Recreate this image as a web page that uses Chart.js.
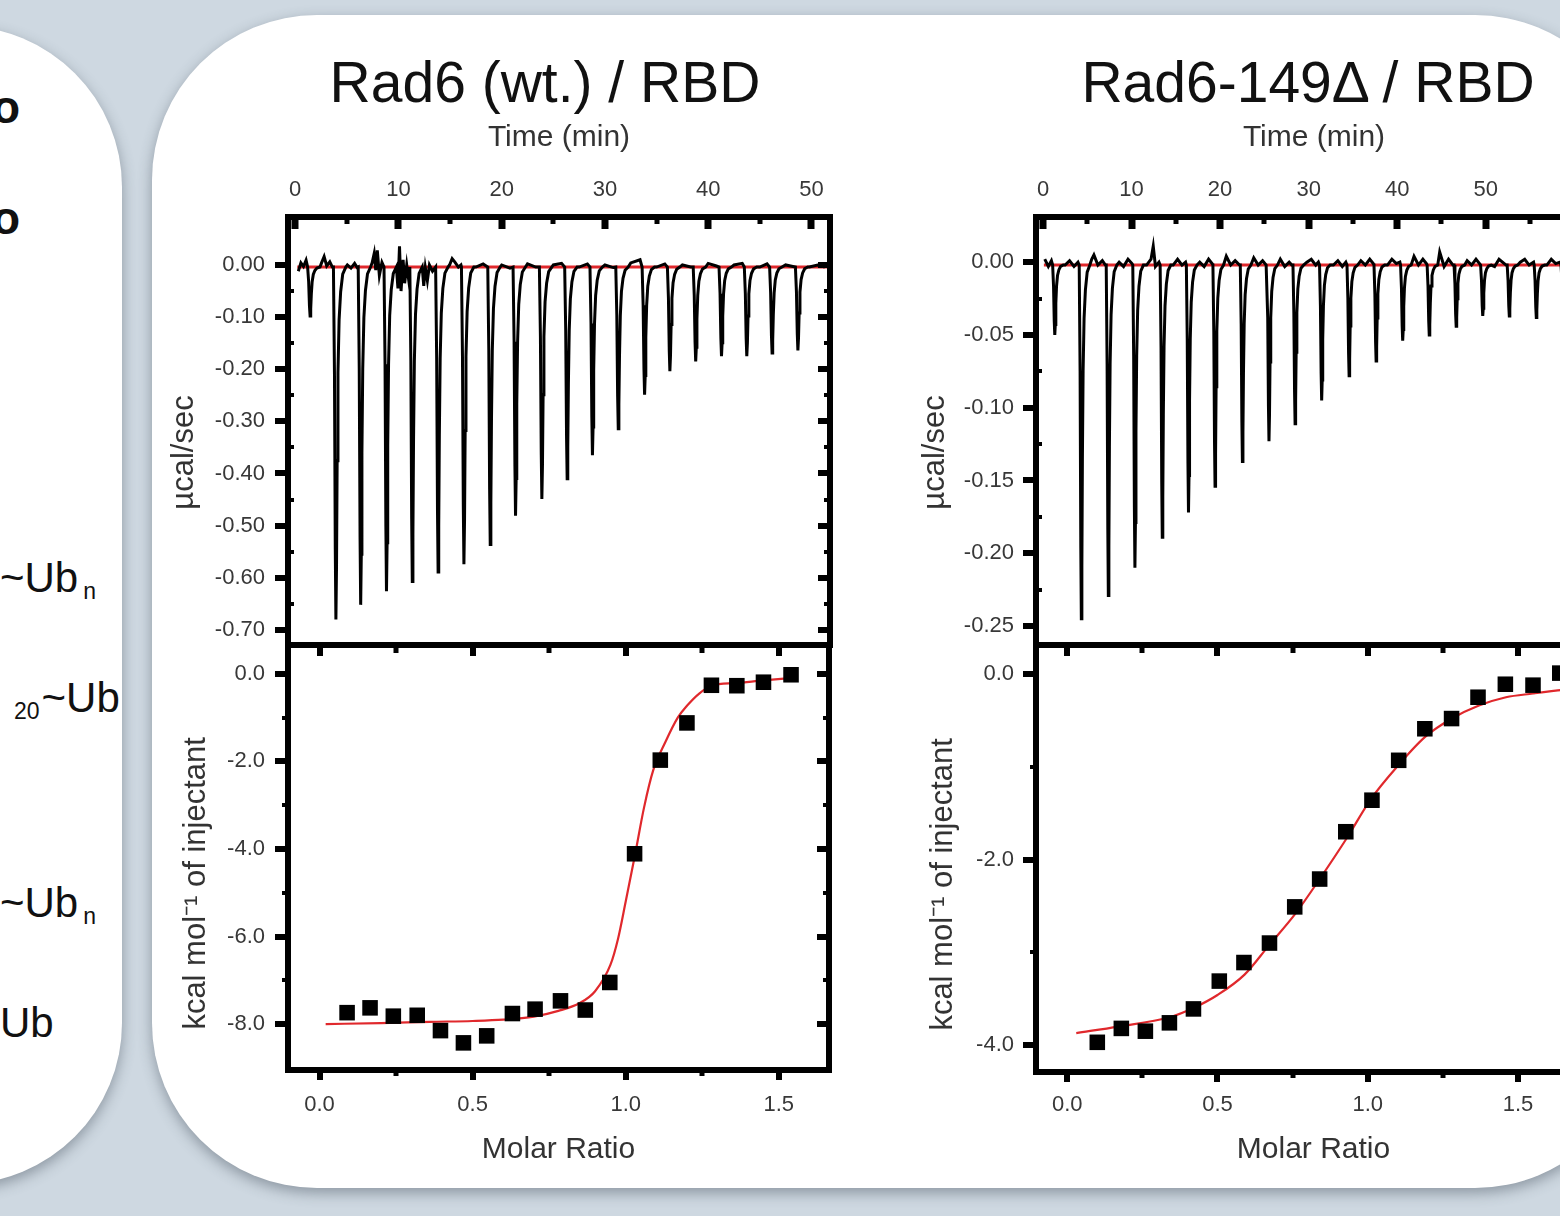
<!DOCTYPE html>
<html lang="en">
<head>
<meta charset="UTF-8">
<title>ITC Rad6 / RBD</title>
<style>
  * { padding: 0; margin: 0; }
  html, body { width: 1560px; height: 1216px; overflow: hidden; }
  body {
    background: #ced8e1;
    font-family: 'Liberation Sans', Arial, sans-serif;
    position: relative;
  }
  .panel {
    position: absolute;
    background: #fff;
    box-shadow: 0 5px 14px rgba(60, 70, 85, 0.45);
  }
  #leftPanel { left: -200px; top: 26px; width: 322px; height: 1158px; border-radius: 165px; }
  #mainPanel { left: 152px; top: 15px; width: 1488px; height: 1173px; border-radius: 165px; }

  .frag { position: absolute; color: #111; font-size: 42px; line-height: 1; white-space: nowrap; }
  .frag.bold { font-weight: bold; font-size: 46px; }
  .frag sub { font-size: 23px; vertical-align: -7px; margin-left: 5px; }
  .frag sub.pre { margin-left: 0; margin-right: 2px; }

  .title {
    position: absolute; top: 54px; font-size: 57px; line-height: 1;
    color: #111; white-space: nowrap; transform: translateX(-50%);
  }
  canvas { position: absolute; }
</style>
</head>
<body>

<div class="panel" id="leftPanel"></div>
<div class="panel" id="mainPanel"></div>

<!-- bits of the neighbouring panel that are cut off -->
<div class="frag bold" style="left:-8px; top:84px;">o</div>
<div class="frag bold" style="left:-8px; top:195px;">o</div>
<div class="frag" style="left:0px; top:557px;">~Ub<sub>n</sub></div>
<div class="frag" style="left:14px; top:677px;"><sub class="pre">20</sub>~Ub</div>
<div class="frag" style="left:0px; top:882px;">~Ub<sub>n</sub></div>
<div class="frag" style="left:0px; top:1002px;">Ub</div>

<div class="title" style="left:545px;">Rad6 (wt.) / RBD</div>
<div class="title" style="left:1308px;">Rad6-149&Delta; / RBD</div>

<canvas id="wtRaw" width="690" height="582" style="left:150px; top:100px;"></canvas>
<canvas id="wtHeat" width="690" height="572" style="left:150px; top:608px;"></canvas>
<canvas id="dRaw" width="702" height="582" style="left:900px; top:100px;"></canvas>
<canvas id="dHeat" width="702" height="572" style="left:900px; top:608px;"></canvas>

<script src="https://cdn.jsdelivr.net/npm/chart.js"></script>
<script>
// ---- Rad6 (wt.) / RBD : raw heat rate ----
const wtInjTimes = [1.3, 3.8, 6.2, 8.7, 11.2, 13.7, 16.2, 18.75, 21.2, 23.75,
                    26.2, 28.65, 31.15, 33.7, 36.15, 38.65, 41.15, 43.6, 46.05, 48.55];
const wtPeaks = [-0.098, -0.680, -0.652, -0.626, -0.607, -0.589, -0.574, -0.536, -0.481, -0.449,
                 -0.410, -0.365, -0.314, -0.249, -0.204, -0.185, -0.175, -0.175, -0.169, -0.164];
const wtBaseLevel = -0.004;
const wtNoise = [
  [0.3, -0.012], [0.55, 0.004], [0.8, -0.003], [1.05, 0.009],
  [2.55, 0.004], [2.8, 0.016], [3.05, -0.002], [3.35, 0.006], [3.6, -0.004],
  [5.05, 0.0], [5.4, -0.006], [5.75, 0.003], [6.0, -0.005],
  [7.45, 0.004], [7.65, 0.022], [7.8, -0.01], [7.95, 0.028], [8.15, -0.02], [8.4, 0.005], [8.6, -0.015],
  [9.95, -0.045], [10.1, 0.036], [10.25, -0.05], [10.45, 0.01], [10.6, -0.035], [10.8, 0.0], [11.0, -0.03],
  [12.45, -0.04], [12.6, -0.005], [12.8, -0.03], [13.0, 0.0], [13.3, -0.012], [13.55, -0.004],
  [14.95, 0.0], [15.2, 0.012], [15.45, 0.006], [15.8, -0.004], [16.05, 0.0],
  [17.5, -0.004], [18.2, 0.002], [20.0, 0.0], [20.8, -0.006], [22.5, 0.002], [23.3, -0.004],
  [25.0, 0.0], [25.8, 0.003], [27.5, -0.004], [28.3, 0.002], [30.0, 0.0], [30.8, -0.005],
  [32.5, 0.004], [33.4, 0.01], [35.0, -0.004], [35.8, 0.002], [37.5, 0.0], [38.3, -0.004],
  [40.0, 0.003], [40.8, -0.002], [42.5, 0.0], [43.3, 0.003], [45.0, -0.004], [45.7, 0.002],
  [47.5, 0.0], [48.2, -0.003], [49.8, -0.004], [50.6, 0.0], [51.3, -0.004]
];
const wtBaseline = [[0.2, -0.004], [52, -0.004]];

// ---- Rad6 (wt.) / RBD : integrated heats ----
const wtRatio = [0.09, 0.165, 0.241, 0.319, 0.395, 0.47, 0.546, 0.63, 0.704, 0.787,
                 0.868, 0.948, 1.029, 1.113, 1.2, 1.28, 1.363, 1.45, 1.54];
const wtHeat = [-7.74, -7.63, -7.82, -7.80, -8.15, -8.43, -8.27, -7.76, -7.66, -7.47,
                -7.68, -7.05, -4.11, -1.97, -1.12, -0.26, -0.27, -0.19, -0.02];
const wtFitX = [0.02, 0.2, 0.36, 0.5, 0.6, 0.7, 0.78, 0.85, 0.9, 0.95, 0.975, 1.0, 1.03,
                1.06, 1.09, 1.13, 1.17, 1.2, 1.24, 1.28, 1.36, 1.45, 1.55];
const wtFitY = [-8.0, -7.98, -7.95, -7.93, -7.9, -7.83, -7.7, -7.52, -7.25, -6.65, -6.05, -5.2, -4.15,
                -3.05, -2.2, -1.55, -1.0, -0.73, -0.45, -0.27, -0.21, -0.15, -0.09];

// ---- Rad6-149Δ / RBD : raw heat rate ----
const dInjTimes = [1.19, 4.19, 7.24, 10.24, 13.33, 16.29, 19.29, 22.38, 25.38, 28.33,
                   31.33, 34.43, 37.48, 40.48, 43.48, 46.52, 49.52, 52.52, 55.57, 58.6];
const dPeaks = [-0.050, -0.245, -0.229, -0.210, -0.189, -0.172, -0.154, -0.137, -0.123, -0.111,
                -0.095, -0.078, -0.068, -0.054, -0.050, -0.044, -0.037, -0.037, -0.038, -0.035];
const dBaseLevel = -0.002;
const dNoise = [
  [0.2, 0.002], [0.6, -0.003], [0.95, 0.001],
  [2.5, -0.002], [3.0, 0.001], [3.5, -0.003], [3.95, 0.0],
  [5.5, 0.002], [5.75, 0.005], [6.2, -0.002], [6.7, 0.001], [7.05, -0.002],
  [8.6, 0.0], [9.1, -0.003], [9.6, 0.002], [10.05, -0.001],
  [11.7, -0.002], [12.2, 0.002], [12.45, 0.011], [12.7, -0.003], [13.1, 0.0],
  [14.7, -0.002], [15.2, 0.002], [15.7, -0.002], [16.1, 0.0],
  [17.7, 0.0], [18.2, -0.003], [18.7, 0.002], [19.1, -0.001],
  [20.7, 0.004], [21.2, -0.002], [21.7, 0.001], [22.2, -0.002],
  [23.8, 0.003], [24.3, -0.002], [24.8, 0.001], [25.2, -0.002],
  [26.8, 0.002], [27.3, -0.003], [27.8, 0.0], [28.1, -0.002],
  [29.8, 0.0], [30.3, 0.002], [30.8, -0.002], [31.1, 0.0],
  [32.8, -0.002], [33.3, 0.001], [33.8, -0.003], [34.2, 0.0],
  [35.9, 0.001], [36.4, -0.002], [36.9, 0.002], [37.3, -0.001],
  [38.9, -0.002], [39.4, 0.002], [39.9, -0.001], [40.3, 0.0],
  [41.9, 0.004], [42.4, -0.002], [42.9, 0.002], [43.3, -0.001],
  [44.8, 0.007], [45.3, -0.003], [45.8, 0.002], [46.3, -0.002],
  [47.9, 0.001], [48.4, -0.002], [48.9, 0.002], [49.3, -0.001],
  [50.6, 0.009], [51.0, -0.003], [51.5, 0.002], [52.3, -0.002],
  [53.9, 0.0], [54.4, 0.002], [54.9, -0.002], [55.4, 0.0],
  [56.9, -0.002], [57.4, 0.002], [57.9, -0.001], [58.4, 0.0],
  [60.0, 0.001], [61.0, -0.002]
];
const dBaseline = [[0.1, -0.002], [62, -0.002]];

// ---- Rad6-149Δ / RBD : integrated heats ----
const dRatio = [0.10, 0.18, 0.26, 0.34, 0.42, 0.506, 0.588, 0.673, 0.757, 0.84,
                0.927, 1.014, 1.103, 1.19, 1.279, 1.367, 1.458, 1.55, 1.639];
const dHeat = [-3.97, -3.82, -3.85, -3.76, -3.61, -3.31, -3.11, -2.90, -2.51, -2.21,
               -1.70, -1.36, -0.93, -0.59, -0.48, -0.25, -0.11, -0.12, 0.01];
const dFitX = [0.03, 0.17, 0.34, 0.42, 0.5, 0.59, 0.67, 0.76, 0.84, 0.93, 1.01, 1.1,
               1.19, 1.28, 1.37, 1.46, 1.55, 1.65, 1.75];
const dFitY = [-3.87, -3.8, -3.7, -3.6, -3.46, -3.24, -2.93, -2.58, -2.21, -1.77, -1.35, -0.99,
               -0.68, -0.48, -0.34, -0.25, -0.21, -0.17, -0.14];

// shape of one injection peak: [minutes after injection, share of peak depth]
const spikeShape = [[-0.1, 0], [0.0, 0.3], [0.08, 0.8], [0.14, 1], [0.2, 0.85], [0.26, 0.55],
                    [0.34, 0.3], [0.45, 0.15], [0.6, 0.07], [0.8, 0.02], [1.1, 0]];

// tick values
const timeTicksWt = [0, 10, 20, 30, 40, 50];
const timeTicksD = [0, 10, 20, 30, 40, 50, 60];
const rateTicksWt = [0, -0.1, -0.2, -0.3, -0.4, -0.5, -0.6, -0.7];
const rateTicksD = [0, -0.05, -0.1, -0.15, -0.2, -0.25];
const heatTicksWt = [0, -2, -4, -6, -8];
const heatTicksD = [0, -2, -4];
const ratioTicks = [0, 0.5, 1.0, 1.5];

const FONT = "'Liberation Sans', Arial, sans-serif";
Chart.defaults.font.family = FONT;
const TICK_COLOR = '#383838';
const RED = '#e0282c';

function buildTrace(injTimes, peaks, base, noise) {
  const pts = [];
  noise.forEach(([t, v]) => {
    const busy = injTimes.some(t0 => t > t0 - 0.15 && t < t0 + 1.15);
    if (!busy) pts.push({ x: t, y: v });
  });
  injTimes.forEach((t0, i) => {
    spikeShape.forEach(([dt, f]) => pts.push({ x: t0 + dt, y: base + f * (peaks[i] - base) }));
  });
  return pts.sort((a, b) => a.x - b.x);
}
const pairs = (xs, ys) => xs.map((x, i) => ({ x: x, y: ys[i] }));
const midpoints = arr => arr.slice(1).map((v, i) => (v + arr[i]) / 2);

// box round the plot area plus the little tick marks
const framePlugin = {
  id: 'frame',
  afterDatasetsDraw(chart, args, opts) {
    const { ctx, chartArea: a } = chart;
    ctx.save();
    ctx.fillStyle = '#000';
    (opts.marks || []).forEach(m => {
      const sc = chart.scales[m.axis];
      m.values.forEach(v => {
        const p = Math.round(sc.getPixelForValue(v));
        const w = m.width, len = m.len, h = w / 2;
        if (m.side === 'top') ctx.fillRect(p - h, m.dir > 0 ? a.top : a.top - len, w, len);
        if (m.side === 'bottom') ctx.fillRect(p - h, m.dir > 0 ? a.bottom - len : a.bottom, w, len);
        if (m.side === 'left') ctx.fillRect(m.dir > 0 ? a.left : a.left - len, p - h, len, w);
        if (m.side === 'right') ctx.fillRect(m.dir > 0 ? a.right - len : a.right, p - h, len, w);
      });
    });
    ctx.strokeStyle = '#000';
    ctx.lineWidth = opts.lineWidth;
    ctx.strokeRect(a.left, a.top, a.right - a.left, a.bottom - a.top);
    ctx.restore();
  }
};

function tickSet(values) {
  return s => { s.ticks = values.map(v => ({ value: v })); };
}
function plainGrid() {
  return { display: false, drawTicks: false };
}

// y tick padding also pads the plot area top/bottom, so the canvases overlap a bit
// and the layout padding on the shared edge absorbs it
function rawChart(id, o) {
  return new Chart(document.getElementById(id), {
    type: 'line',
    data: {
      datasets: [
        { data: o.trace, borderColor: '#000', borderWidth: 3, pointRadius: 0, tension: 0 },
        { data: o.baseline, borderColor: RED, borderWidth: 3, pointRadius: 0 }
      ]
    },
    options: {
      responsive: false, animation: false, events: [],
      layout: { padding: { top: 0, right: 10, bottom: 37, left: 0 } },
      plugins: {
        legend: { display: false }, tooltip: { enabled: false },
        frame: { lineWidth: 6, marks: o.marks }
      },
      scales: {
        x: {
          type: 'linear', position: 'top', min: o.xMin, max: o.xMax,
          afterBuildTicks: tickSet(o.xTicks),
          afterFit: s => { s.height = 117; },
          ticks: { font: { size: 22 }, color: TICK_COLOR, padding: 14, autoSkip: false, maxRotation: 0,
                   callback: v => String(v) },
          grid: plainGrid(), border: { display: false },
          title: { display: true, text: 'Time (min)', color: '#333', font: { size: 30 }, padding: { top: 20, bottom: 0 } }
        },
        y: {
          min: o.yMin, max: o.yMax,
          afterBuildTicks: tickSet(o.yTicks),
          afterFit: s => { s.width = o.yWidth; },
          ticks: { font: { size: 22 }, color: TICK_COLOR, padding: o.yPad, autoSkip: false,
                   callback: v => v.toFixed(2) },
          grid: plainGrid(), border: { display: false },
          title: { display: true, text: 'µcal/sec' + '\u00a0'.repeat(5), color: '#333',
                   font: { size: 31 }, padding: { top: o.yTitlePad, bottom: 0 } }
        }
      }
    },
    plugins: [framePlugin]
  });
}

function heatChart(id, o) {
  return new Chart(document.getElementById(id), {
    type: 'line',
    data: {
      datasets: [
        { data: o.points, showLine: false, pointStyle: 'rect', pointRadius: 11,
          pointBackgroundColor: '#000', pointBorderColor: '#000', pointBorderWidth: 0 },
        { data: o.fit, borderColor: RED, borderWidth: 2.2, pointRadius: 0, cubicInterpolationMode: 'monotone' }
      ]
    },
    options: {
      responsive: false, animation: false, events: [],
      layout: { padding: { top: 37, right: 10, bottom: 0, left: 0 } },
      plugins: {
        legend: { display: false }, tooltip: { enabled: false },
        frame: { lineWidth: 6, marks: o.marks }
      },
      scales: {
        x: {
          type: 'linear', position: 'bottom', min: o.xMin, max: o.xMax,
          afterBuildTicks: tickSet(ratioTicks),
          afterFit: s => { s.height = o.xHeight; },
          ticks: { font: { size: 22 }, color: TICK_COLOR, padding: o.xPad, autoSkip: false, maxRotation: 0,
                   callback: v => v.toFixed(1) },
          grid: plainGrid(), border: { display: false },
          title: { display: true, text: 'Molar Ratio', color: '#333', font: { size: 30 }, padding: { top: 0, bottom: 12 } }
        },
        y: {
          min: o.yMin, max: o.yMax,
          afterBuildTicks: tickSet(o.yTicks),
          afterFit: s => { s.width = o.yWidth; },
          ticks: { font: { size: 22 }, color: TICK_COLOR, padding: o.yPad, autoSkip: false,
                   callback: v => v.toFixed(1) },
          grid: plainGrid(), border: { display: false },
          title: { display: true, text: 'kcal mol\u207B\u00B9 of injectant' + '\u00a0'.repeat(6), color: '#333',
                   font: { size: 31 }, padding: { top: o.yTitlePad, bottom: 0 } }
        }
      }
    },
    plugins: [framePlugin]
  });
}

// tick mark sets (major / minor) for each frame
const timeMinorWt = midpoints(timeTicksWt);
const timeMinorD = midpoints(timeTicksD);
const rateMinorWt = midpoints(rateTicksWt);
const rateMinorD = midpoints(rateTicksD);
const heatMinorWt = midpoints(heatTicksWt);
const heatMinorD = midpoints(heatTicksD);
const ratioMinor = [0.25, 0.75, 1.25, 1.75];

function rawMarks(tMaj, tMin, rMaj, rMin) {
  return [
    { side: 'top', axis: 'x', values: tMaj, len: 12, width: 7, dir: 1 },
    { side: 'top', axis: 'x', values: tMin, len: 7, width: 5, dir: 1 },
    { side: 'left', axis: 'y', values: rMaj, len: 13, width: 6, dir: -1 },
    { side: 'left', axis: 'y', values: rMin, len: 6, width: 4, dir: 1 },
    { side: 'right', axis: 'y', values: rMaj, len: 12, width: 6, dir: 1 },
    { side: 'right', axis: 'y', values: rMin, len: 6, width: 4, dir: 1 }
  ];
}
function heatMarks(hMaj, hMin) {
  return [
    { side: 'top', axis: 'x', values: ratioTicks, len: 11, width: 6, dir: 1 },
    { side: 'top', axis: 'x', values: ratioMinor, len: 8, width: 5, dir: 1 },
    { side: 'bottom', axis: 'x', values: ratioTicks, len: 10, width: 6, dir: -1 },
    { side: 'bottom', axis: 'x', values: ratioMinor, len: 6, width: 5, dir: -1 },
    { side: 'left', axis: 'y', values: hMaj, len: 13, width: 6, dir: -1 },
    { side: 'left', axis: 'y', values: hMin, len: 6, width: 4, dir: -1 },
    { side: 'right', axis: 'y', values: hMaj, len: 12, width: 6, dir: 1 },
    { side: 'right', axis: 'y', values: hMin, len: 6, width: 4, dir: 1 }
  ];
}

rawChart('wtRaw', {
  trace: buildTrace(wtInjTimes, wtPeaks, wtBaseLevel, wtNoise),
  baseline: wtBaseline.map(([x, y]) => ({ x, y })),
  xMin: -0.7, xMax: 51.8, xTicks: timeTicksWt,
  yMin: -0.729, yMax: 0.092, yTicks: rateTicksWt,
  yWidth: 138, yPad: 23, yTitlePad: 16,
  marks: rawMarks(timeTicksWt, timeMinorWt, rateTicksWt, rateMinorWt)
});

heatChart('wtHeat', {
  points: pairs(wtRatio, wtHeat),
  fit: pairs(wtFitX, wtFitY),
  xMin: -0.103, xMax: 1.664, xHeight: 110, xPad: 22,
  yMin: -9.05, yMax: 0.66, yTicks: heatTicksWt,
  yWidth: 138, yPad: 23, yTitlePad: 28,
  marks: heatMarks(heatTicksWt, heatMinorWt)
});

rawChart('dRaw', {
  trace: buildTrace(dInjTimes, dPeaks, dBaseLevel, dNoise),
  baseline: dBaseline.map(([x, y]) => ({ x, y })),
  xMin: -0.79, xMax: 62.0, xTicks: timeTicksD,
  yMin: -0.263, yMax: 0.031, yTicks: rateTicksD,
  yWidth: 136, yPad: 22, yTitlePad: 17,
  marks: rawMarks(timeTicksD, timeMinorD, rateTicksD, rateMinorD)
});

heatChart('dHeat', {
  points: pairs(dRatio, dHeat),
  fit: pairs(dFitX, dFitY),
  xMin: -0.104, xMax: 1.743, xHeight: 108, xPad: 20,
  yMin: -4.29, yMax: 0.313, yTicks: heatTicksD,
  yWidth: 136, yPad: 22, yTitlePad: 25,
  marks: heatMarks(heatTicksD, heatMinorD)
});
</script>
</body>
</html>
